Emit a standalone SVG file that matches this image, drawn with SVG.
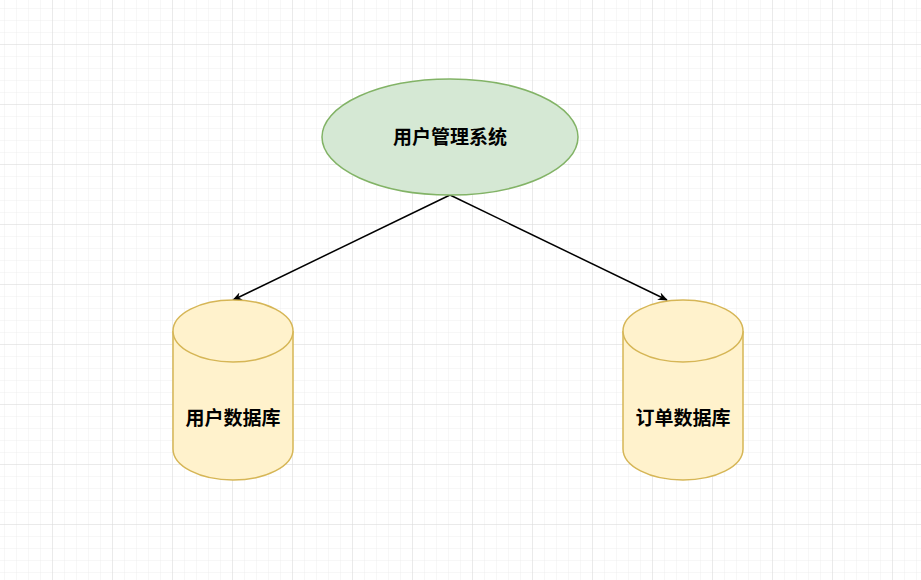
<svg xmlns="http://www.w3.org/2000/svg" width="921" height="580" viewBox="0 0 921 580">
<defs>
<pattern id="minor" x="-7" y="-15" width="12" height="12" patternUnits="userSpaceOnUse"><path d="M12 0V12M0 12H12" fill="none" stroke="#eeeeee" stroke-width="1"/></pattern>
<pattern id="major" x="-7" y="-15" width="60" height="60" patternUnits="userSpaceOnUse"><path d="M60 0V60M0 60H60" fill="none" stroke="#dddddd" stroke-width="1"/></pattern>
<marker id="arr" viewBox="0 0 10 10" refX="9" refY="5" markerWidth="10" markerHeight="10" markerUnits="userSpaceOnUse" orient="auto"><path d="M0 1L10 5L0 9L3 5Z" fill="#000"/></marker>
</defs>
<style>
text{font-family:"Liberation Sans","Noto Sans CJK SC",sans-serif;font-size:19px;font-weight:bold;text-anchor:middle;fill:#000}
.db{fill:#fff2cc;stroke:#d6b656;stroke-width:1.5}
.ln{stroke:#000;stroke-width:1.5;fill:none;marker-end:url(#arr)}
</style>
<rect width="921" height="580" fill="#fff"/>
<rect width="921" height="580" fill="url(#minor)"/>
<rect width="921" height="580" fill="url(#major)"/>
<g id="connectors">
<line class="ln" x1="450" y1="195" x2="233" y2="300"/>
<line class="ln" x1="450" y1="195" x2="667" y2="300"/>
</g>
<g id="sys">
<ellipse cx="450" cy="137" rx="128" ry="58" fill="#d5e8d4" stroke="#82b366" stroke-width="1.5"/>
<text x="450" y="144">用户管理系统</text>
</g>
<g id="userdb">
<path class="db" d="M173 331A60 31 0 0 1 293 331V449A60 31 0 0 1 173 449Z"/>
<path class="db" d="M173 331A60 31 0 0 0 293 331" fill="none"/>
<text x="233" y="425">用户数据库</text>
</g>
<g id="orderdb">
<path class="db" d="M623 331A60 31 0 0 1 743 331V449A60 31 0 0 1 623 449Z"/>
<path class="db" d="M623 331A60 31 0 0 0 743 331" fill="none"/>
<text x="683" y="425">订单数据库</text>
</g>
</svg>
